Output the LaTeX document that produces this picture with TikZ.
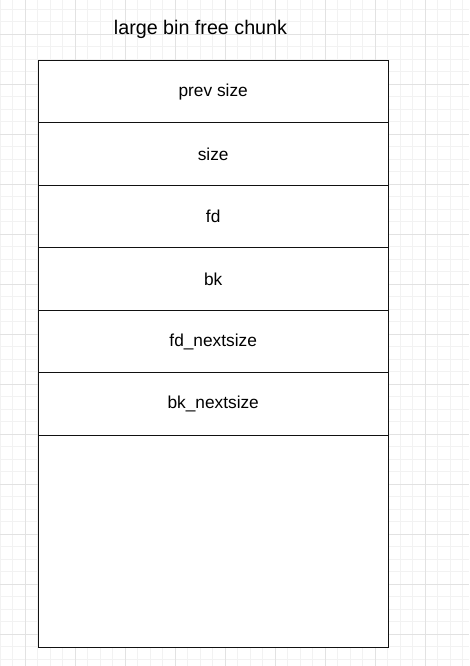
\documentclass[tikz,border=0pt]{standalone}
\usepackage{fontspec}
\setmainfont{Liberation Sans}
\definecolor{gridminor}{HTML}{F2F2F2}
\definecolor{gridmajor}{HTML}{E2E2E2}
\definecolor{boxline}{HTML}{111111}

\tikzset{
  cell/.style={draw=boxline, line width=1.4pt, minimum width=350pt, minimum height=#1,
    inner sep=0pt, anchor=north, font=\fontsize{17.3}{20}\selectfont},
}

\begin{document}
\begin{tikzpicture}[x=1pt, y=-1pt]
    \useasboundingbox (0, 0) rectangle (469, 666);
    % background grid
    \foreach \gx in {0, 12.5, ..., 469} {
      \draw[gridminor, line width=0.8pt] (\gx, 0) -- (\gx, 666);
    }
    \foreach \gy in {9, 21.5, ..., 666} {
      \draw[gridminor, line width=0.8pt] (0, \gy) -- (469, \gy);
    }
    \foreach \gx in {25, 75, ..., 469} {
      \draw[gridmajor, line width=0.8pt] (\gx, 0) -- (\gx, 666);
    }
    \foreach \gy in {34, 84, ..., 666} {
      \draw[gridmajor, line width=0.8pt] (0, \gy) -- (469, \gy);
    }

    \node[font=\fontsize{19.7}{22}\selectfont] (title) at (200.5, 29) {large bin free chunk};

    \fill[white] (38.5, 60) rectangle (388, 647);
    \node[cell=62pt] (prevsize) at (213.2, 60) {prev size};
    \node[cell=63pt] (size) at (213.2, 122) {size};
    \node[cell=62pt] (fd) at (213.2, 185) {fd};
    \node[cell=63pt] (bk) at (213.2, 247) {bk};
    \node[cell=62pt] (fdnext) at (213.2, 310) {fd\_nextsize};
    \node[cell=63pt] (bknext) at (213.2, 372) {bk\_nextsize};
    \node[cell=212pt] (rest) at (213.2, 435) {};
\end{tikzpicture}
\end{document}
